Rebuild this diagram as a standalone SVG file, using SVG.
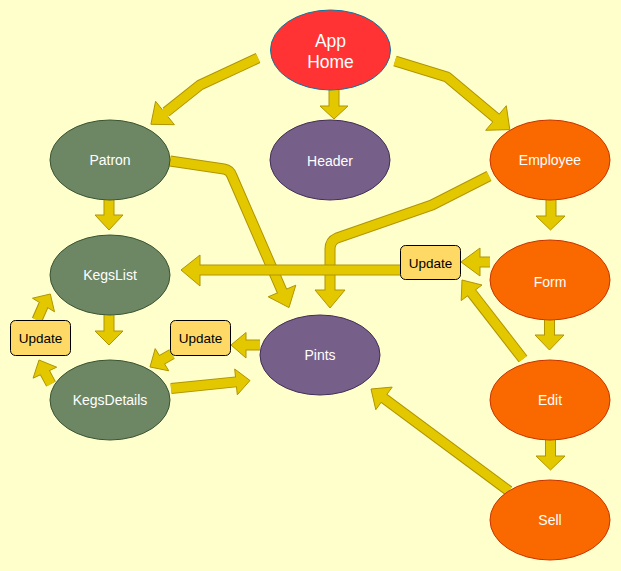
<svg xmlns="http://www.w3.org/2000/svg" width="621" height="571" viewBox="0 0 621 571">
<style>
.bg{fill:#ffffcc}
.so{fill:none;stroke:#b09500;stroke-width:11;stroke-linejoin:round;stroke-linecap:butt}
.si{fill:none;stroke:#e3c800;stroke-width:9;stroke-linejoin:round;stroke-linecap:butt}
.hd{fill:#e3c800;stroke:#b09500;stroke-width:1;stroke-linejoin:miter}
.red{fill:#ff3333;stroke:#10739e;stroke-width:1}
.green{fill:#6d8764;stroke:#3a5431;stroke-width:1}
.purple{fill:#76608a;stroke:#432d57;stroke-width:1}
.orange{fill:#fa6800;stroke:#c73500;stroke-width:1}
.upd{fill:#ffd966;stroke:#000;stroke-width:1}
.lbl{font-family:"Liberation Sans",Arial,Helvetica,sans-serif;font-size:14px;fill:#fff;text-anchor:middle}
.big{font-size:17.5px}
.ul{font-family:"Liberation Sans",Arial,Helvetica,sans-serif;font-size:13.5px;fill:#000;text-anchor:middle}
</style>
<rect class="bg" x="0" y="0" width="621" height="571"/>

<g id="connectors">
  <!-- App Home -> Patron -->
  <g id="e-app-patron">
    <path class="so" d="M258,58 L200,85 L166,112"/>
    <polygon class="hd" points="155.6,101.3 174.4,124.7 150.9,124.3"/>
    <path class="si" d="M258,58 L200,85 L164,113.8"/>
  </g>
  <!-- App Home -> Header -->
  <g id="e-app-header">
    <path class="so" d="M334,90 L334,106"/>
    <polygon class="hd" points="320,106 348,106 334,119"/>
    <path class="si" d="M334,90 L334,107.5"/>
  </g>
  <!-- App Home -> Employee -->
  <g id="e-app-employee">
    <path class="so" d="M395,61 L447,77 L496,118"/>
    <polygon class="hd" points="485.7,130.3 506.3,105.7 509.8,129.6"/>
    <path class="si" d="M395,61 L447,77 L497.5,119.3"/>
  </g>
  <!-- Patron -> Pints -->
  <g id="e-patron-pints">
    <path class="so" d="M170,161 L224,169 Q230,170 232,176 L282,291"/>
    <polygon class="hd" points="268.2,296.8 295.8,285.2 289,307.6"/>
    <path class="si" d="M170,161 L224,169 Q230,170 232,176 L282.6,292.4"/>
  </g>
  <!-- Employee -> Pints -->
  <g id="e-employee-pints">
    <path class="so" d="M489,176 L432,205 L337,238 Q330,241 330,249 L330,290"/>
    <polygon class="hd" points="315,290 345,290 330,308"/>
    <path class="si" d="M489,176 L432,205 L337,238 Q330,241 330,249 L330,291.5"/>
  </g>
  <!-- Form -> Update (right) -->
  <g id="e-form-update">
    <path class="so" d="M490,262 L480,262"/>
    <polygon class="hd" points="480,248 480,276 461,262"/>
    <path class="si" d="M490,262 L478.5,262"/>
  </g>
  <!-- Update (right) -> KegsList -->
  <g id="e-update-kegslist">
    <path class="so" d="M400,270 L200,270"/>
    <polygon class="hd" points="200,255 200,286 181,270"/>
    <path class="si" d="M400,270 L198.5,270"/>
  </g>
  <!-- Edit -> Update (right) -->
  <g id="e-edit-update">
    <path class="so" d="M523,359 L471.6,292.8"/>
    <polygon class="hd" points="482,285 461.2,300.6 462,280"/>
    <path class="si" d="M523,359 L470.7,291.6"/>
  </g>
  <!-- Employee -> Form -->
  <g id="e-employee-form">
    <path class="so" d="M551,200 L551,216"/>
    <polygon class="hd" points="536,216 565,216 550.5,230"/>
    <path class="si" d="M551,200 L551,217.5"/>
  </g>
  <!-- Form -> Edit -->
  <g id="e-form-edit">
    <path class="so" d="M549.5,320 L549.5,335"/>
    <polygon class="hd" points="535,335 564,335 549.5,350"/>
    <path class="si" d="M549.5,320 L549.5,336.5"/>
  </g>
  <!-- Edit -> Sell -->
  <g id="e-edit-sell">
    <path class="so" d="M550.5,440 L550.5,456"/>
    <polygon class="hd" points="536,456 565,456 550.5,470"/>
    <path class="si" d="M550.5,440 L550.5,457.5"/>
  </g>
  <!-- Sell -> Pints -->
  <g id="e-sell-pints">
    <path class="so" d="M509,491 L384,398.4"/>
    <polygon class="hd" points="392.2,387.1 375.8,409.7 371,389"/>
    <path class="si" d="M509,491 L382.8,397.5"/>
  </g>
  <!-- Patron -> KegsList -->
  <g id="e-patron-kegslist">
    <path class="so" d="M109,200 L109,215"/>
    <polygon class="hd" points="95,215 123,215 109,230"/>
    <path class="si" d="M109,200 L109,216.5"/>
  </g>
  <!-- KegsList -> KegsDetails -->
  <g id="e-kegslist-kegsdetails">
    <path class="so" d="M109,315 L109,331"/>
    <polygon class="hd" points="95,331 123,331 109,345"/>
    <path class="si" d="M109,315 L109,332.5"/>
  </g>
  <!-- Update (left) -> KegsList -->
  <g id="e-updateleft-kegslist">
    <path class="so" d="M37,320 L43.5,305"/>
    <polygon class="hd" points="54.5,311.8 32.5,298.2 50.3,294"/>
    <path class="si" d="M37,320 L44.1,303.8"/>
  </g>
  <!-- KegsDetails -> Update (left) -->
  <g id="e-kegsdetails-updateleft">
    <path class="so" d="M51,384 L44.9,372.7"/>
    <polygon class="hd" points="56.7,367.2 33.1,378.2 39,360"/>
    <path class="si" d="M51,384 L44.3,371.5"/>
  </g>
  <!-- Pints -> Update (mid) -->
  <g id="e-pints-updatemid">
    <path class="so" d="M260,345 L246,345"/>
    <polygon class="hd" points="246,332.5 246,358 231,345"/>
    <path class="si" d="M260,345 L244.5,345"/>
  </g>
  <!-- Update (mid) -> KegsDetails -->
  <g id="e-updatemid-kegsdetails">
    <path class="so" d="M172,354 L162,359.7"/>
    <polygon class="hd" points="155.2,348.6 168.8,370.8 150,367"/>
    <path class="si" d="M172,354 L160.7,360.5"/>
  </g>
  <!-- KegsDetails -> Pints -->
  <g id="e-kegsdetails-pints">
    <path class="so" d="M171,388.5 L236,381.9"/>
    <polygon class="hd" points="237.3,394.8 234.7,369 250,380.5"/>
    <path class="si" d="M171,388.5 L237.5,381.7"/>
  </g>
</g>

<g id="app-home">
  <ellipse class="red" cx="330.5" cy="50" rx="60" ry="40"/>
  <text class="lbl big" x="330.5" y="47">App</text>
  <text class="lbl big" x="330.5" y="67.5">Home</text>
</g>
<g id="patron">
  <ellipse class="green" cx="110" cy="160" rx="60" ry="40"/>
  <text class="lbl" x="110" y="165">Patron</text>
</g>
<g id="header">
  <ellipse class="purple" cx="330" cy="160" rx="60" ry="40"/>
  <text class="lbl" x="330" y="165.5">Header</text>
</g>
<g id="employee">
  <ellipse class="orange" cx="550" cy="160" rx="60" ry="40"/>
  <text class="lbl" x="550" y="165">Employee</text>
</g>
<g id="kegslist">
  <ellipse class="green" cx="110" cy="275" rx="60" ry="40"/>
  <text class="lbl" x="110" y="280">KegsList</text>
</g>
<g id="form">
  <ellipse class="orange" cx="550" cy="280" rx="60" ry="40"/>
  <text class="lbl" x="550" y="287">Form</text>
</g>
<g id="update-right">
  <rect class="upd" x="400.5" y="245.5" width="60" height="34" rx="5"/>
  <text class="ul" x="430.5" y="267.5">Update</text>
</g>
<g id="update-left">
  <rect class="upd" x="10.5" y="320.5" width="60" height="35" rx="5"/>
  <text class="ul" x="40.5" y="343">Update</text>
</g>
<g id="update-mid">
  <rect class="upd" x="170.5" y="320.5" width="60" height="35" rx="5"/>
  <text class="ul" x="200.5" y="343">Update</text>
</g>
<g id="pints">
  <ellipse class="purple" cx="320" cy="355" rx="60" ry="40"/>
  <text class="lbl" x="320" y="360">Pints</text>
</g>
<g id="kegsdetails">
  <ellipse class="green" cx="110" cy="400" rx="60" ry="40"/>
  <text class="lbl" x="110" y="405">KegsDetails</text>
</g>
<g id="edit">
  <ellipse class="orange" cx="550" cy="400" rx="60" ry="40"/>
  <text class="lbl" x="550" y="405">Edit</text>
</g>
<g id="sell">
  <ellipse class="orange" cx="550" cy="520" rx="60" ry="40"/>
  <text class="lbl" x="550" y="525">Sell</text>
</g>
</svg>
